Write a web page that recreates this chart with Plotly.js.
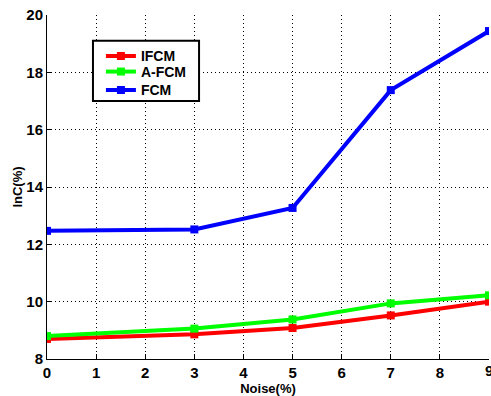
<!DOCTYPE html>
<html>
<head>
<script src="https://cdn.plot.ly/plotly-3.0.1.min.js"></script>
<style>body{margin:0;padding:0;background:#fff}#chart{width:491px;height:396px}</style>
</head>
<body>
<div id="chart"></div>
<script>
const noise = [0, 3, 5, 7, 9];
const ifcm = [8.70, 8.86, 9.08, 9.52, 10.0];
const afcm = [8.80, 9.06, 9.38, 9.94, 10.22];
const fcm = [12.47, 12.52, 13.27, 17.38, 19.44];
const xTicks = [0,1,2,3,4,5,6,7,8,9];
const yTicks = [8,10,12,14,16,18,20];

function tr(name, y, color, lg) {
  return {x: noise, y: y, name: name, type: 'scatter', mode: 'lines+markers', legend: lg,
    line: {color: color, width: 4}, marker: {symbol: 'square', size: 8, color: color}};
}
const data = [tr('IFCM', ifcm, '#ff0000', 'legend'), tr('A-FCM', afcm, '#00ff00', 'legend2'), tr('FCM', fcm, '#0000ff', 'legend3')];
const fam = 'Liberation Sans, Arial, sans-serif';
const fnt = {family: fam, size: 15, color: '#000', weight: 'bold'};
const lgFont = {family: fam, size: 14, color: '#000', weight: 'bold'};
function lg(y) {
  return {x: 0.122, y: y, xanchor: 'left', yanchor: 'middle', bgcolor: 'rgba(0,0,0,0)',
    borderwidth: 0, font: lgFont};
}
const axCommon = {showgrid: true, gridcolor: '#000', griddash: '1px,3px', gridwidth: 1, zeroline: false,
    showline: true, linecolor: '#000', linewidth: 1, ticks: 'inside', ticklen: 5, tickcolor: '#000', tickfont: fnt};
const layout = {
  width: 491, height: 396,
  margin: {l: 47, r: 2, t: 15, b: 37},
  paper_bgcolor: '#fff', plot_bgcolor: '#fff',
  showlegend: true,
  legend: lg(0.880), legend2: lg(0.8344), legend3: lg(0.7810),
  shapes: [{type: 'rect', xref: 'paper', yref: 'paper', x0: 0.104, x1: 0.344, y0: 0.750, y1: 0.925,
    line: {color: '#000', width: 2}, fillcolor: '#fff', layer: 'above'}],
  annotations: [{text: '9', xref: 'x', yref: 'paper', x: 9, y: 0, yanchor: 'top', xanchor: 'center',
    yshift: -1, showarrow: false, font: fnt}],
  xaxis: Object.assign({range: [0, 9], tickvals: xTicks, ticktext: xTicks.map(String),
    title: {text: 'Noise(%)', font: {family: fam, size: 13, color: '#000', weight: 'bold'}, standoff: 2}}, axCommon),
  yaxis: Object.assign({range: [8, 20], tickvals: yTicks, ticktext: yTicks.map(String),
    title: {text: 'lnC(%)', font: {family: fam, size: 13, color: '#000', weight: 'bold'}, standoff: 0}}, axCommon)
};
Plotly.newPlot('chart', data, layout, {displayModeBar: false, staticPlot: true});
</script>
</body>
</html>
